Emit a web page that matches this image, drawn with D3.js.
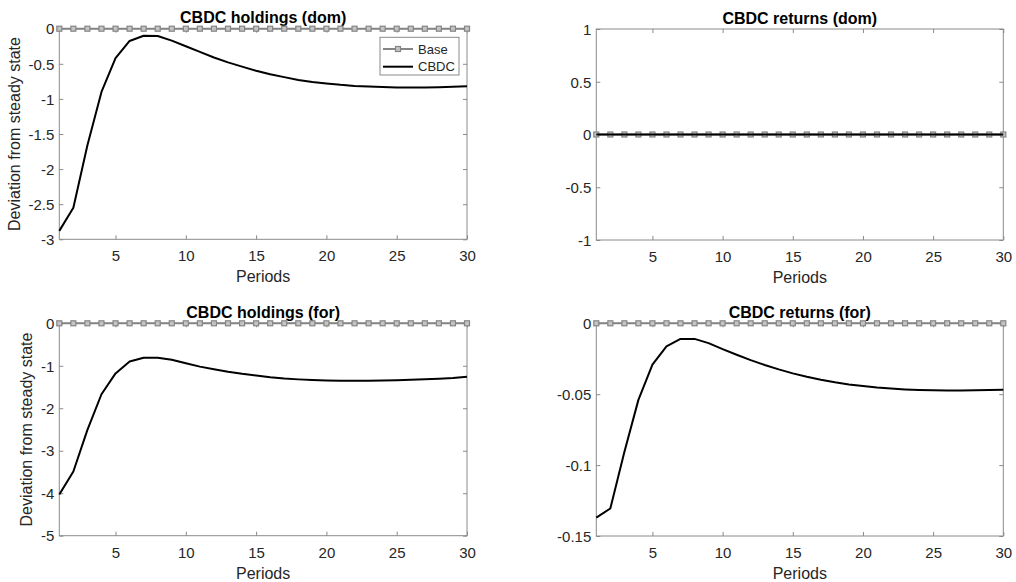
<!DOCTYPE html>
<html>
<head>
<meta charset="utf-8">
<script src="https://cdn.jsdelivr.net/npm/d3@7"></script>
<style>
  html, body { margin: 0; padding: 0; background: #fff; }
  svg { display: block; font-family: "Liberation Sans", Arial, sans-serif; }
</style>
</head>
<body>
<svg id="chart" width="1016" height="582"></svg>
<script>
// ---- data ----
const periods = d3.range(1, 31);
const seriesNames = ["Base", "CBDC"];
const panelTitles = ["CBDC holdings (dom)", "CBDC returns (dom)", "CBDC holdings (for)", "CBDC returns (for)"];
const xTicks = [5, 10, 15, 20, 25, 30];

const baseValues = [0,0,0,0,0,0,0,0,0,0,0,0,0,0,0,0,0,0,0,0,0,0,0,0,0,0,0,0,0,0];
const holdingsDom = [-2.88, -2.55, -1.66, -0.90, -0.42, -0.175, -0.10, -0.105, -0.17, -0.25,
                     -0.33, -0.41, -0.48, -0.54, -0.60, -0.65, -0.69, -0.73, -0.76, -0.78,
                     -0.80, -0.815, -0.825, -0.832, -0.836, -0.838, -0.836, -0.833, -0.828, -0.82];
const returnsDom = [0,0,0,0,0,0,0,0,0,0,0,0,0,0,0,0,0,0,0,0,0,0,0,0,0,0,0,0,0,0];
const holdingsFor = [-4.03, -3.49, -2.51, -1.67, -1.18, -0.90, -0.81, -0.81, -0.86, -0.94,
                     -1.02, -1.08, -1.14, -1.19, -1.23, -1.27, -1.30, -1.32, -1.335, -1.345,
                     -1.35, -1.352, -1.352, -1.348, -1.34, -1.33, -1.32, -1.305, -1.29, -1.26];
const returnsFor = [-0.137, -0.1306, -0.0908, -0.054, -0.0291, -0.0163, -0.011, -0.011, -0.014, -0.0182,
                    -0.0222, -0.026, -0.0294, -0.0325, -0.0353, -0.0377, -0.0398, -0.0416, -0.0431, -0.0443,
                    -0.0453, -0.046, -0.0466, -0.047, -0.0473, -0.0474, -0.0474, -0.0473, -0.0471, -0.0468];

const yDomains = [[-3, 0], [-1, 1], [-5, 0], [-0.15, 0]];
const yTicksList = [
  [0, -0.5, -1, -1.5, -2, -2.5, -3],
  [1, 0.5, 0, -0.5, -1],
  [0, -1, -2, -3, -4, -5],
  [0, -0.05, -0.1, -0.15]
];
const cbdcValues = [holdingsDom, returnsDom, holdingsFor, returnsFor];
const yLabel = "Deviation from steady state";
const xLabel = "Periods";

// ---- layout ----
const boxes = [
  {x0: 59.3, x1: 467,    y0: 28.7,  y1: 239.3, ylab: 20},
  {x0: 596.3, x1: 1003.3, y0: 29,   y1: 240,   ylab: null},
  {x0: 59.3, x1: 467,    y0: 323.3, y1: 535.7, ylab: 32},
  {x0: 596.3, x1: 1003.3, y0: 323.3, y1: 536,  ylab: null}
];

const svg = d3.select("#chart");
const axisColor = "#8a8a8a";
const textColor = "#262626";
const baseColor = "#858585";

function fmt(v) { return String(v); }

boxes.forEach((b, i) => {
  const x = d3.scaleLinear().domain([1, 30]).range([b.x0, b.x1]);
  const y = d3.scaleLinear().domain(yDomains[i]).range([b.y1, b.y0]);
  const g = svg.append("g");

  // box
  g.append("rect").attr("x", b.x0).attr("y", b.y0)
    .attr("width", b.x1 - b.x0).attr("height", b.y1 - b.y0)
    .attr("fill", "none").attr("stroke", axisColor).attr("stroke-width", 1);

  // axes (ticks inward)
  const tl = 4;
  const xb = g.append("g").attr("transform", `translate(0,${b.y1})`)
    .call(d3.axisBottom(x).tickValues(xTicks).tickSize(-tl).tickPadding(0).tickFormat(d3.format("d")));
  const xt = g.append("g").attr("transform", `translate(0,${b.y0})`)
    .call(d3.axisTop(x).tickValues(xTicks).tickSize(-tl).tickFormat(""));
  const yl = g.append("g").attr("transform", `translate(${b.x0},0)`)
    .call(d3.axisLeft(y).tickValues(yTicksList[i]).tickSize(-tl).tickPadding(0).tickFormat(fmt));
  const yr = g.append("g").attr("transform", `translate(${b.x1},0)`)
    .call(d3.axisRight(y).tickValues(yTicksList[i]).tickSize(-tl).tickFormat(""));
  [xb, xt, yl, yr].forEach(a => {
    a.select(".domain").remove();
    a.selectAll(".tick line").attr("stroke", axisColor);
  });
  xb.selectAll(".tick text").attr("y", 22).attr("dy", 0)
    .attr("fill", textColor).style("font-size", "15px").style("font-family", "Liberation Sans, Arial, sans-serif");
  yl.selectAll(".tick text").attr("x", -5).attr("dy", "0.35em")
    .attr("fill", textColor).style("font-size", "15px").style("font-family", "Liberation Sans, Arial, sans-serif");

  // title
  g.append("text").attr("x", (b.x0 + b.x1) / 2).attr("y", b.y0 - 5.5)
    .attr("text-anchor", "middle").attr("font-weight", "bold").attr("font-size", 16)
    .attr("fill", "#000").text(panelTitles[i]);

  // x label
  g.append("text").attr("x", (b.x0 + b.x1) / 2).attr("y", b.y1 + 43)
    .attr("text-anchor", "middle").attr("font-size", 16).attr("fill", textColor).text(xLabel);

  // y label
  if (b.ylab !== null) {
    g.append("text")
      .attr("transform", `translate(${b.ylab},${(b.y0 + b.y1) / 2}) rotate(-90)`)
      .attr("text-anchor", "middle").attr("font-size", 16).attr("fill", textColor).text(yLabel);
  }

  // lines
  const line = d3.line().x((d, k) => x(periods[k])).y(d => y(d));
  g.append("path").datum(baseValues).attr("d", line)
    .attr("fill", "none").attr("stroke", baseColor).attr("stroke-width", 2);
  g.selectAll("rect.mk").data(baseValues).enter().append("rect").attr("class", "mk")
    .attr("x", (d, k) => x(periods[k]) - 2.5).attr("y", d => y(d) - 2.5)
    .attr("width", 5).attr("height", 5)
    .attr("fill", "#c4c4c4").attr("stroke", baseColor).attr("stroke-width", 1.2);
  g.append("path").datum(cbdcValues[i]).attr("d", line)
    .attr("fill", "none").attr("stroke", "#000").attr("stroke-width", 2)
    .attr("stroke-linejoin", "round");

  // legend in first panel
  if (i === 0) {
    const lg = g.append("g");
    lg.append("rect").attr("x", 380).attr("y", 37.3).attr("width", 79).attr("height", 37.7)
      .attr("fill", "#fff").attr("stroke", axisColor).attr("stroke-width", 1);
    const rows = [49, 66.7];
    seriesNames.forEach((name, k) => {
      const yy = rows[k];
      lg.append("line").attr("x1", 383).attr("x2", 413).attr("y1", yy).attr("y2", yy)
        .attr("stroke", k === 0 ? baseColor : "#000").attr("stroke-width", 2);
      if (k === 0) {
        lg.append("rect").attr("x", 398 - 2.5).attr("y", yy - 2.5).attr("width", 5).attr("height", 5)
          .attr("fill", "#c4c4c4").attr("stroke", baseColor).attr("stroke-width", 1.2);
      }
      lg.append("text").attr("x", 418).attr("y", yy).attr("dy", "0.35em")
        .attr("font-size", 13).attr("fill", textColor).text(name);
    });
  }
});
</script>
</body>
</html>
